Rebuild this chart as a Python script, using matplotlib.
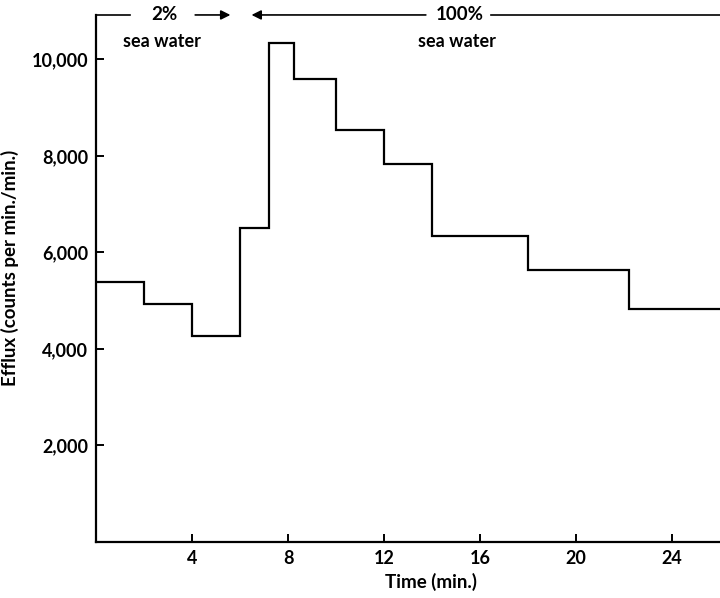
import numpy as np
import matplotlib.pyplot as plt

# step edges (min) and efflux level in each interval (counts per min./min.)
edges = [0, 2, 4, 6, 7.2, 8.25, 10, 12, 14, 18, 22.2, 26]
efflux = [5380, 4920, 4270, 6510, 10330, 9600, 8530, 7840, 6340, 5630, 4820]
xticks = [4, 8, 12, 16, 20, 24]
yticks = [2000, 4000, 6000, 8000, 10000]

plt.rcParams['font.family'] = ['Lato', 'DejaVu Sans']

fig = plt.figure(figsize=(7.2, 5.98), dpi=100)
ax = fig.add_axes([0.134, 0.094, 0.866, 0.881])

ax.stairs(efflux, edges, color='k', lw=1.6, baseline=None)

ax.set_xlim(0, 26)
ax.set_ylim(0, 10920)
ax.set_xticks(xticks)
ax.set_yticks(yticks)
ax.set_yticklabels([f'{v:,}' for v in yticks])
ax.tick_params(direction='in', length=6, width=1.4, labelsize=13, pad=6)
for lab in ax.get_xticklabels() + ax.get_yticklabels():
    lab.set_fontweight('bold')

for s in ['top', 'right']:
    ax.spines[s].set_visible(False)
for s in ['left', 'bottom']:
    ax.spines[s].set_linewidth(1.6)

ax.set_xlabel('Time (min.)', fontsize=13.5, fontweight='bold')
ax.xaxis.set_label_coords(0.536, -0.06)
ax.set_ylabel('Efflux (counts per min./min.)', fontsize=13.5, fontweight='bold')
ax.yaxis.set_label_coords(-0.125, 0.52)

# solution bars at top
ytop = 10920
kw = dict(color='k', lw=1.2, clip_on=False)
ax.plot([0, 1.4], [ytop, ytop], **kw)
ax.text(2.85, ytop, '2%', ha='center', va='center', fontsize=13.5, fontweight='bold')
ax.annotate('', xy=(5.7, ytop), xytext=(4.0, ytop),
            arrowprops=dict(arrowstyle='-|>', color='k', lw=1.2, mutation_scale=14),
            annotation_clip=False)
ax.text(2.75, 10380, 'sea water', ha='center', va='center', fontsize=13, fontweight='bold')

ax.annotate('', xy=(6.35, ytop), xytext=(13.85, ytop),
            arrowprops=dict(arrowstyle='-|>', color='k', lw=1.2, mutation_scale=14),
            annotation_clip=False)
ax.text(15.15, ytop, '100%', ha='center', va='center', fontsize=13.5, fontweight='bold')
ax.plot([16.45, 26], [ytop, ytop], **kw)
ax.text(15.05, 10380, 'sea water', ha='center', va='center', fontsize=13, fontweight='bold')

fig.savefig('out.png', dpi=100)
